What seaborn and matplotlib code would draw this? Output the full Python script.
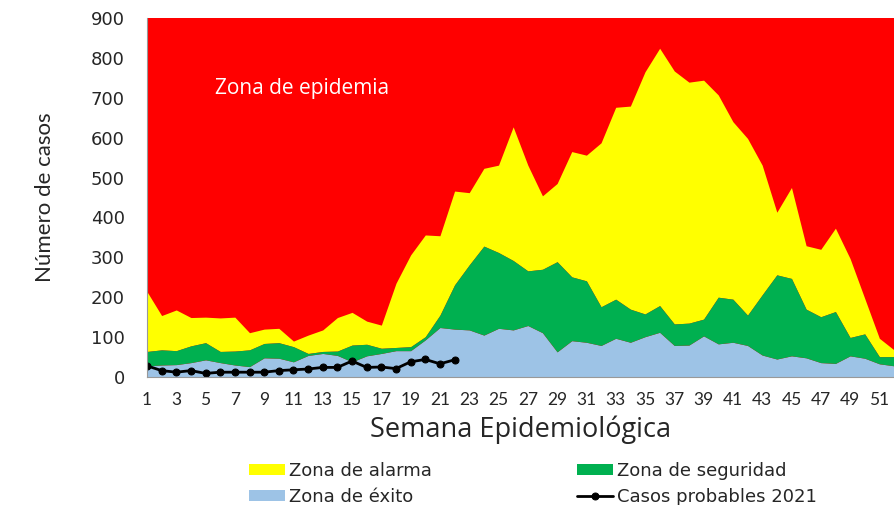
import numpy as np
import pandas as pd
import matplotlib
matplotlib.use("Agg")
import matplotlib.pyplot as plt
import seaborn as sns

# Canal endemico: limites superiores de cada zona (acumulados) por semana
SEMANAS = list(range(1, 53))

LIMITE_EXITO = [28, 30, 31, 36, 43, 36, 30, 26, 48, 47, 38, 54, 59, 54, 38, 53, 59, 66,
                66, 93, 124, 120, 118, 105, 122, 118, 129, 111, 63, 91, 87, 79, 97, 87,
                101, 112, 79, 80, 103, 83, 87, 79, 55, 45, 53, 48, 36, 34, 53, 47, 33, 28]

LIMITE_SEGURIDAD = [64, 68, 66, 78, 86, 64, 65, 68, 84, 86, 76, 59, 64, 65, 80, 82, 72, 74,
                    76, 101, 155, 231, 281, 328, 312, 292, 266, 270, 289, 251, 241, 176, 195,
                    170, 158, 179, 133, 135, 145, 200, 195, 155, 206, 256, 247, 170, 151, 164,
                    99, 108, 51, 51]

LIMITE_ALARMA = [214, 154, 168, 149, 150, 148, 150, 111, 120, 122, 90, 105, 118, 149, 162,
                 140, 130, 235, 306, 356, 354, 466, 462, 523, 531, 627, 531, 454, 485, 565,
                 556, 587, 676, 679, 765, 824, 767, 739, 744, 707, 640, 598, 531, 413, 475,
                 329, 320, 373, 297, 197, 97, 68]

# Casos probables 2021 (semanas 1 a 22)
SEMANAS_2021 = list(range(1, 23))
CASOS_2021 = [28, 16, 12, 16, 9, 12, 12, 12, 12, 16, 18, 20, 24, 24, 40, 24, 25, 21,
              38, 44, 33, 43]

Y_MAX = 900

canal = pd.DataFrame({
    'Semana': SEMANAS,
    'Exito': LIMITE_EXITO,
    'Seguridad': LIMITE_SEGURIDAD,
    'Alarma': LIMITE_ALARMA,
})
casos = pd.DataFrame({'Semana': SEMANAS_2021, 'Casos': CASOS_2021})

sns.set_style("white")
plt.rcParams['font.family'] = ['DejaVu Sans']

fig = plt.figure(figsize=(8.94, 5.05), dpi=100)
ax = fig.add_axes([0.1644, 0.2535, 0.8356, 0.711])

# zona de epidemia = fondo rojo
ax.set_facecolor('#FF0000')
ax.fill_between(canal['Semana'], canal['Seguridad'], canal['Alarma'],
                color='#FFFF00', lw=0, label='Zona de alarma')
ax.fill_between(canal['Semana'], 0, canal['Exito'],
                color='#9DC3E6', lw=0, label='Zona de éxito')
ax.fill_between(canal['Semana'], canal['Exito'], canal['Seguridad'],
                color='#00B050', lw=0, label='Zona de seguridad')

sns.lineplot(data=casos, x='Semana', y='Casos', ax=ax, color='black', lw=2,
             marker='o', markersize=5, markeredgecolor='black',
             label='Casos probables 2021')

ax.set_xlim(1, 52)
ax.set_ylim(0, Y_MAX)
ax.set_xticks(SEMANAS)
ax.set_xticklabels([str(s) if s % 2 == 1 else '' for s in SEMANAS],
                   fontsize=12.5, family=['Lato', 'DejaVu Sans'])
ax.set_yticks(range(0, Y_MAX + 1, 100))
ax.tick_params(axis='y', labelsize=13, direction='out', length=5, color='#888888', pad=11)
ax.tick_params(axis='x', direction='out', length=4, color='#888888', pad=7)

for side in ['top', 'right']:
    ax.spines[side].set_visible(False)
for side in ['left', 'bottom']:
    ax.spines[side].set_color('#999999')

ax.set_xlabel('Semana Epidemiológica', fontsize=19.5, family=['Open Sans', 'DejaVu Sans'],
              labelpad=5)
ax.set_ylabel('Número de casos', fontsize=16, family=['Liberation Sans Narrow', 'Lato', 'DejaVu Sans'],
              labelpad=26)

ax.text(5.65, 724, 'Zona de epidemia', color='white', fontsize=15,
        family=['Open Sans', 'DejaVu Sans'], va='center', ha='left')

handles, labels = ax.get_legend_handles_labels()
ax.get_legend().remove()
order = ['Zona de alarma', 'Zona de éxito', 'Zona de seguridad', 'Casos probables 2021']
hmap = dict(zip(labels, handles))
fig.legend([hmap[o] for o in order], order, ncol=2, loc='center',
           bbox_to_anchor=(0.596, 0.042), frameon=False, fontsize=13,
           handlelength=2.0, handleheight=0.55, handletextpad=0.25,
           columnspacing=8.0, labelspacing=0.45, borderpad=0.2)

fig.savefig('out.png', dpi=100)
